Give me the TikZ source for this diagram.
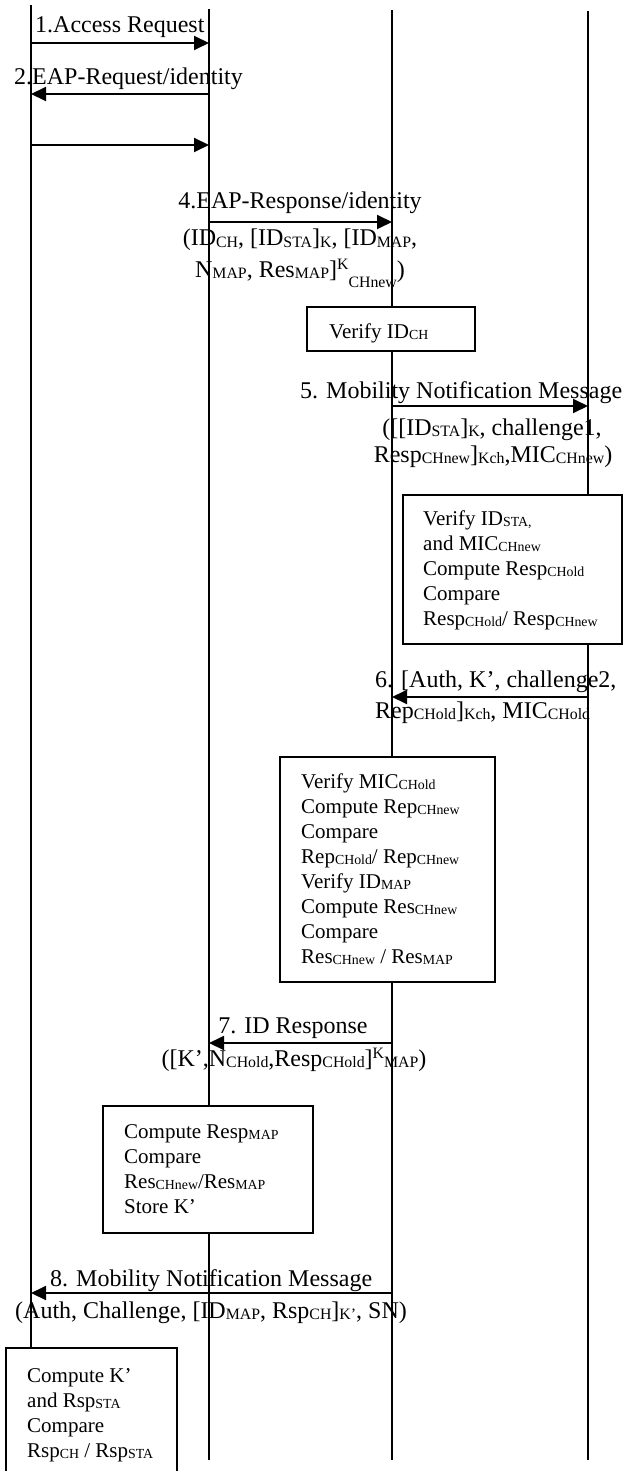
\documentclass[tikz,border=0pt]{standalone}
\usepackage{fontspec}
\setmainfont{Liberation Serif}
\usepackage{graphicx}
\usetikzlibrary{arrows.meta}
\newcommand\dsub[1]{\raisebox{-0.08em}{\scalebox{0.66}{#1}}}
\newcommand\dsup[1]{\raisebox{0.3em}{\scalebox{0.66}{#1}}}
\newcommand\dlow[1]{\raisebox{-0.42em}{\scalebox{0.66}{#1}}}
\tikzset{
 life/.style={line width=2pt},
 msg/.style={line width=1.9pt, -{Triangle[length=15pt,width=14pt]}},
 boxs/.style={draw, line width=1.8pt, fill=white, inner sep=0pt, outer sep=0pt, anchor=north west, rectangle},
 lbl/.style={inner sep=0pt, font=\fontsize{24}{28}\selectfont},
 btxt/.style={inner sep=0pt, anchor=base west, font=\fontsize{21}{25}\selectfont},
}
\begin{document}
\begin{tikzpicture}[x=1pt, y=-1pt]
\useasboundingbox (0,0) rectangle (623,1471);
\clip (0,0) rectangle (623,1471);
% lifelines
\coordinate (L1t) at (31,5);   \coordinate (L1b) at (31,1471);
\coordinate (L2t) at (209,9);  \coordinate (L2b) at (209,1460);
\coordinate (L3t) at (392,10); \coordinate (L3b) at (392,1460);
\coordinate (L4t) at (588,11); \coordinate (L4b) at (588,1460);
\draw[life] (L1t) -- (L1b);
\draw[life] (L2t) -- (L2b);
\draw[life] (L3t) -- (L3b);
\draw[life] (L4t) -- (L4b);
% boxes
\node[boxs, minimum width=168pt, minimum height=44pt] (b1) at (307,307) {};
\node[boxs, minimum width=219pt, minimum height=149pt] (b2) at (403,495) {};
\node[boxs, minimum width=215pt, minimum height=225pt] (b3) at (280,757) {};
\node[boxs, minimum width=210pt, minimum height=127pt] (b4) at (103,1106) {};
\node[boxs, minimum width=171pt, minimum height=150pt] (b5) at (6,1348) {};
% box texts
\node[btxt] (t1) at (329,338) {Verify ID\dsub{CH}};
\node[btxt] (t2) at (423,525) {\vtop{\hbox{Verify ID\dsub{STA,}}\hbox{and MIC\dsub{CHnew}}\hbox{Compute Resp\dsub{CHold}}\hbox{Compare}\hbox{Resp\dsub{CHold}/ Resp\dsub{CHnew}}}};
\node[btxt] (t3) at (301,788) {\vtop{\hbox{Verify MIC\dsub{CHold}}\hbox{Compute Rep\dsub{CHnew}}\hbox{Compare}\hbox{Rep\dsub{CHold}/ Rep\dsub{CHnew}}\hbox{Verify ID\dsub{MAP}}\hbox{Compute Res\dsub{CHnew}}\hbox{Compare}\hbox{Res\dsub{CHnew} / Res\dsub{MAP}}}};
\node[btxt] (t4) at (124,1138) {\vtop{\hbox{Compute Resp\dsub{MAP}}\hbox{Compare}\hbox{Res\dsub{CHnew}/Res\dsub{MAP}}\hbox{Store K’}}};
\node[btxt] (t5) at (27,1382) {\vtop{\hbox{Compute K’}\hbox{and Rsp\dsub{STA}}\hbox{Compare}\hbox{Rsp\dsub{CH} / Rsp\dsub{STA}}}};
% messages
\coordinate (m1s) at (31,43);   \coordinate (m1e) at (209,43);
\coordinate (m2s) at (209,94);  \coordinate (m2e) at (31,94);
\coordinate (m3s) at (31,145);  \coordinate (m3e) at (209,145);
\coordinate (m4s) at (209,222); \coordinate (m4e) at (392,222);
\coordinate (m5s) at (392,406); \coordinate (m5e) at (588,406);
\coordinate (m6s) at (588,697); \coordinate (m6e) at (392,697);
\coordinate (m7s) at (392,1043);\coordinate (m7e) at (209,1043);
\coordinate (m8s) at (392,1293);\coordinate (m8e) at (31,1293);
\draw[msg] (m1s) -- (m1e);
\draw[msg] (m2s) -- (m2e);
\draw[msg] (m3s) -- (m3e);
\draw[msg] (m4s) -- (m4e);
\draw[msg] (m5s) -- (m5e);
\draw[msg] (m6s) -- (m6e);
\draw[msg] (m7s) -- (m7e);
\draw[msg] (m8s) -- (m8e);
% labels
\node[lbl, anchor=base west] (l1) at (35,33) {1.Access Request};
\node[lbl, anchor=base west] (l2) at (14,85) {2.EAP-Request/identity};
\node[lbl, anchor=base] (l4a) at (300,209) {4.EAP-Response/identity};
\node[lbl, anchor=base] (l4b) at (300,246) {(ID\dsub{CH}, [ID\dsub{STA}]\dsub{K}, [ID\dsub{MAP},};
\node[lbl, anchor=base] (l4c) at (300,277) {N\dsub{MAP}, Res\dsub{MAP}]\dsup{K}\dlow{CHnew})};
\node[lbl, anchor=base west] (l5a) at (300,398) {5. Mobility Notification Message};
\node[lbl, anchor=base] (l5b) at (492,435) {([[ID\dsub{STA}]\dsub{K}, challenge1,};
\node[lbl, anchor=base] (l5c) at (493,462) {Resp\dsub{CHnew}]\dsub{Kch},MIC\dsub{CHnew})};
\node[lbl, anchor=base west] (l6a) at (375,687) {6. [Auth, K’, challenge2,};
\node[lbl, anchor=base west] (l6b) at (375,718) {Rep\dsub{CHold}]\dsub{Kch}, MIC\dsub{CHold}};
\node[lbl, anchor=base] (l7a) at (293,1033) {7. ID Response};
\node[lbl, anchor=base] (l7b) at (294,1066) {([K’,N\dsub{CHold},Resp\dsub{CHold}]\dsup{K}\dsub{MAP})};
\node[lbl, anchor=base west] (l8a) at (50,1286) {8. Mobility Notification Message};
\node[lbl, anchor=base west] (l8b) at (15,1318) {(Auth, Challenge, [ID\dsub{MAP}, Rsp\dsub{CH}]\dsub{K’}, SN)};
\end{tikzpicture}
\end{document}
